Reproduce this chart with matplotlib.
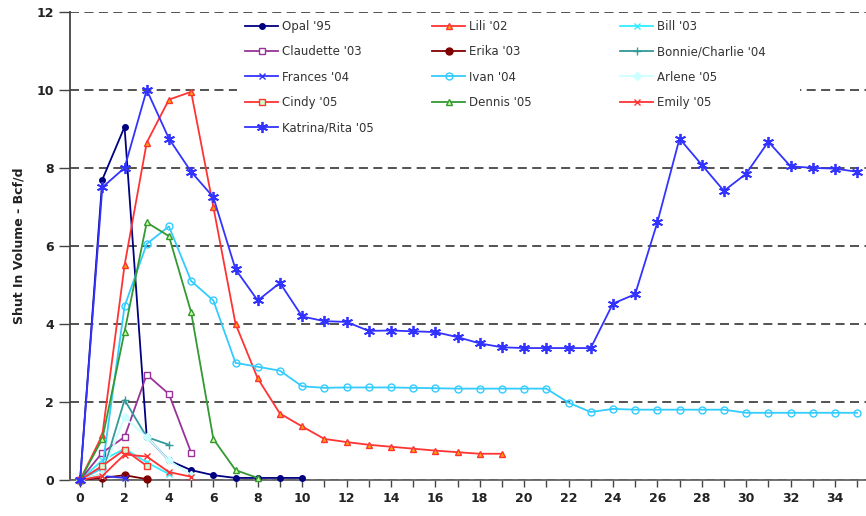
import matplotlib.pyplot as plt
from matplotlib.ticker import MultipleLocator
from matplotlib.patches import Rectangle

# days since landfall vs shut-in gas volume (Bcf/d)
opal = [0, 7.7, 9.05, 1.1, 0.5, 0.25, 0.12, 0.05, 0.05, 0.05, 0.05]
lili = [0, 1.15, 5.5, 8.65, 9.75, 9.95, 7.0, 4.0, 2.6, 1.7, 1.37,
        1.05, 0.97, 0.9, 0.85, 0.8, 0.75, 0.71, 0.67, 0.67]
bill = [0, 0.5, 0.8, 0.45, 0.15]
claudette = [0, 0.7, 1.1, 2.7, 2.2, 0.7]
erika = [0, 0.05, 0.12, 0.02]
bonnie = [0, 0.15, 2.05, 1.1, 0.9]
frances = [0, 0.1, 0.05]
ivan = [0, 0.3, 4.45, 6.05, 6.5, 5.1, 4.6, 3.0, 2.9, 2.8, 2.4,
        2.36, 2.37, 2.37, 2.37, 2.36, 2.35, 2.34, 2.34, 2.34, 2.34, 2.34,
        1.98, 1.74, 1.82, 1.8, 1.8, 1.8, 1.8, 1.8, 1.72, 1.72, 1.72, 1.72,
        1.72, 1.72]
arlene = [0, 0.15, 1.6, 1.1, 0.5, 0.12]
cindy = [0, 0.36, 0.77, 0.36]
dennis = [0, 1.05, 3.8, 6.6, 6.25, 4.3, 1.05, 0.25, 0.05]
emily = [0, 0.1, 0.65, 0.6, 0.2, 0.08]
katrina = [0, 7.5, 8.0, 10.0, 8.75, 7.9, 7.25, 5.4, 4.6, 5.05, 4.19,
           4.07, 4.05, 3.82, 3.83, 3.81, 3.79, 3.66, 3.5, 3.4, 3.38, 3.38,
           3.38, 3.38, 4.52, 4.76, 6.6, 8.75, 8.08, 7.41, 7.85, 8.67,
           8.04, 8.0, 7.98, 7.9]

series = [
    ("Opal '95", opal, dict(color="#000080", marker="o", ms=4)),
    ("Lili '02", lili, dict(color="#FF3333", marker="^", ms=5, mfc="#FFA500", mec="#FF3333")),
    ("Bill '03", bill, dict(color="#33EEFF", marker="x", ms=5)),
    ("Claudette '03", claudette, dict(color="#993399", marker="s", ms=5, mfc="white")),
    ("Erika '03", erika, dict(color="#800000", marker="o", ms=5)),
    ("Bonnie/Charlie '04", bonnie, dict(color="#339999", marker="+", ms=6)),
    ("Frances '04", frances, dict(color="#3333FF", marker="x", ms=4)),
    ("Ivan '04", ivan, dict(color="#33CCFF", marker="o", ms=5, mfc="none")),
    ("Arlene '05", arlene, dict(color="#CCFFFF", marker="D", ms=4)),
    ("Cindy '05", cindy, dict(color="#FF3333", marker="s", ms=5, mfc="#CCFFCC")),
    ("Dennis '05", dennis, dict(color="#339933", marker="^", ms=5, mfc="#CCFF99")),
    ("Emily '05", emily, dict(color="#FF3333", marker="x", ms=5)),
    ("Katrina/Rita '05", katrina, dict(color="#3333FF", marker=(6, 2, 0), ms=8, mew=1.3)),
]

fig = plt.figure(figsize=(8.66, 5.16), dpi=100)
ax = fig.add_axes([0.081, 0.070, 0.919, 0.907])

handles = {}
for name, vals, style in series:
    line, = ax.plot(range(len(vals)), vals, lw=1.3, label=name, clip_on=False, zorder=3, **style)
    handles[name] = line

ax.set_xlim(-0.45, 35.4)
ax.set_ylim(0, 12)
ax.xaxis.set_major_locator(MultipleLocator(2))
ax.xaxis.set_minor_locator(MultipleLocator(1))
ax.yaxis.set_major_locator(MultipleLocator(2))
ax.tick_params(axis="both", labelsize=9, colors="#222222")
ax.tick_params(axis="x", which="both", length=5, width=1, direction="out", color="#444444")
ax.tick_params(axis="y", length=8, width=1, color="#444444")
for lab in ax.get_xticklabels() + ax.get_yticklabels():
    lab.set_fontweight("bold")
ax.grid(axis="y", color="#444444", linestyle=(0, (5, 3)), linewidth=1.3)
ax.set_axisbelow(True)
for s in ["top", "right"]:
    ax.spines[s].set_visible(False)
ax.spines["left"].set_color("#444444")
ax.spines["bottom"].set_color("#666666")
ax.spines["left"].set_linewidth(1.3)
ax.spines["bottom"].set_linewidth(1.3)
ax.set_ylabel("Shut In Volume - Bcf/d", fontsize=9, fontweight="bold", color="#222222", labelpad=8)

# white box behind the legend, hides the gridlines there
ax.add_patch(Rectangle((0.21, 0.731), 0.707, 0.26, transform=ax.transAxes,
                       facecolor="white", edgecolor="none", zorder=1.5))

columns = [
    (0.22, ["Opal '95", "Claudette '03", "Frances '04", "Cindy '05", "Katrina/Rita '05"]),
    (0.455, ["Lili '02", "Erika '03", "Ivan '04", "Dennis '05"]),
    (0.691, ["Bill '03", "Bonnie/Charlie '04", "Arlene '05", "Emily '05"]),
]
for i, (x0, names) in enumerate(columns):
    leg = ax.legend([handles[n] for n in names], names, loc="upper left",
                    bbox_to_anchor=(x0, 0.983), frameon=False, fontsize=8.5,
                    handlelength=2.8, labelspacing=1.05, handletextpad=0.3,
                    borderpad=0, borderaxespad=0)
    for t in leg.get_texts():
        t.set_color("#333333")
    if i < len(columns) - 1:
        ax.add_artist(leg)

fig.savefig("out.png", dpi=100)
